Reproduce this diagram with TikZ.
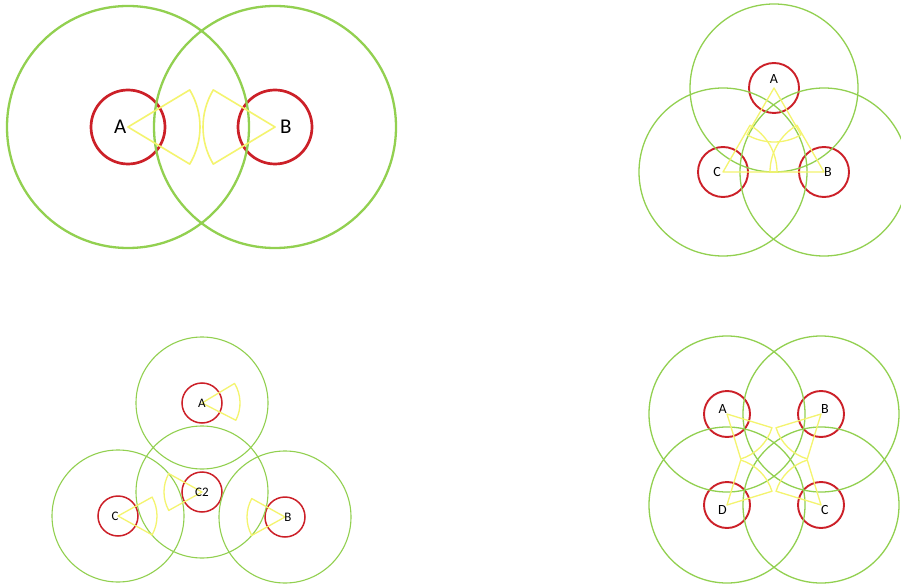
\documentclass[tikz,border=0pt]{standalone}
\usepackage{fontspec}
\setmainfont{Carlito}
\usepackage{tikz}
\usetikzlibrary{positioning}

\definecolor{rangegreen}{RGB}{146,208,80}
\definecolor{nodered}{RGB}{204,32,40}
\definecolor{fanyellow}{RGB}{244,244,110}

% fan: apex node, direction, radius, half angle
\newcommand\fan[4]{%
  \draw[fanline] (#1.center) -- ++(#2+#4:#3) arc[start angle=#2+#4, end angle=#2-#4, radius=#3] -- cycle;}

\begin{document}
\begin{tikzpicture}[x=1pt,y=1pt,
  dev/.style={circle,draw=nodered,inner sep=0pt},
  rangering/.style={draw=rangegreen},
  fanline/.style={draw=fanyellow,line width=1.3pt,line join=round},
  lbl/.style={inner sep=0pt,text=black}]
\clip (0,0) rectangle (901,587);
\fill[white] (0,0) rectangle (901,587);

% two nodes
\node[dev,line width=2.7pt,minimum size=74pt] (A1) at (128,460) {};
\node[dev,line width=2.7pt,minimum size=74pt] (B1) at (275,460) {};
\draw[rangering,line width=2.3pt] (A1.center) circle[radius=121];
\draw[rangering,line width=2.3pt] (B1.center) circle[radius=121];
\begin{scope}[fanline/.append style={line width=1.6pt}]
\fan{A1}{0}{72}{31}
\fan{B1}{180}{72}{31}
\end{scope}
\node[lbl,font=\fontsize{21}{21}\selectfont,left=1.5pt of A1.center] (A1l) {A};
\node[lbl,font=\fontsize{21}{21}\selectfont,right=5pt of B1.center] (B1l) {B};

% three nodes, triangle
\node[dev,line width=1.9pt,minimum size=50pt] (A2) at (774,499) {};
\node[dev,line width=1.9pt,minimum size=50pt] (C2) at (723,415) {};
\node[dev,line width=1.9pt,minimum size=50pt] (B2) at (824,415) {};
\foreach \n in {A2,B2,C2}
  \draw[rangering,line width=1.3pt] (\n.center) circle[radius=84];
\fan{A2}{-90}{54}{30}
\fan{C2}{30}{54}{30}
\fan{B2}{150}{54}{30}
\node[lbl,font=\fontsize{14}{14}\selectfont,above=4pt of A2.center] (A2l) {A};
\node[lbl,font=\fontsize{14}{14}\selectfont,left=2pt of C2.center] (C2l) {C};
\node[lbl,font=\fontsize{14}{14}\selectfont,right=0pt of B2.center] (B2l) {B};

% three nodes and a middle one
\node[dev,line width=1.5pt,minimum size=40pt] (A3) at (202,184) {};
\node[dev,line width=1.5pt,minimum size=40pt] (M3) at (202,95) {};
\node[dev,line width=1.5pt,minimum size=40pt] (C3) at (118,71) {};
\node[dev,line width=1.5pt,minimum size=40pt] (B3) at (285,70) {};
\foreach \n in {A3,M3,C3,B3}
  \draw[rangering,line width=1.1pt] (\n.center) circle[radius=66];
\fan{A3}{2}{38}{29}
\fan{M3}{180}{38}{29}
\fan{C3}{0}{39}{29}
\fan{B3}{180}{38}{29}
\node[lbl,font=\fontsize{13}{13}\selectfont] (A3l) at (A3) {A};
\node[lbl,font=\fontsize{13}{13}\selectfont] (M3l) at (M3) {C2};
\node[lbl,font=\fontsize{13}{13}\selectfont,xshift=-3pt] (C3l) at (C3) {C};
\node[lbl,font=\fontsize{13}{13}\selectfont,xshift=3pt] (B3l) at (B3) {B};

% four nodes, square
\node[dev,line width=1.9pt,minimum size=46pt] (A4) at (727,173) {};
\node[dev,line width=1.9pt,minimum size=46pt] (B4) at (821,173) {};
\node[dev,line width=1.9pt,minimum size=46pt] (D4) at (727,82) {};
\node[dev,line width=1.9pt,minimum size=46pt] (C4) at (821,82) {};
\foreach \n in {A4,B4,C4,D4}
  \draw[rangering,line width=1.3pt] (\n.center) circle[radius=78];
\fan{A4}{-45}{47}{28}
\fan{B4}{-135}{47}{28}
\fan{C4}{135}{47}{28}
\fan{D4}{45}{47}{28}
\node[lbl,font=\fontsize{14}{14}\selectfont,above left=0pt of A4.center] (A4l) {A};
\node[lbl,font=\fontsize{14}{14}\selectfont,above right=0pt of B4.center] (B4l) {B};
\node[lbl,font=\fontsize{14}{14}\selectfont,below right=0pt of C4.center] (C4l) {C};
\node[lbl,font=\fontsize{14}{14}\selectfont,below left=0pt of D4.center] (D4l) {D};
\end{tikzpicture}
\end{document}
